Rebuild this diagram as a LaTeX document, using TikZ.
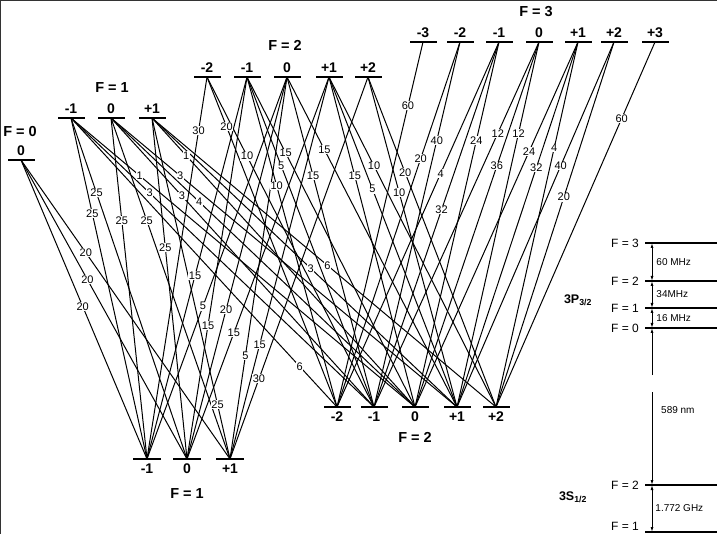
\documentclass[tikz,border=0pt]{standalone}
\usepackage{fontspec}
\setmainfont{Liberation Sans}
\usetikzlibrary{arrows.meta,positioning}

\tikzset{
  sublevel/.style={fill=black, inner sep=0pt, minimum width=27pt, minimum height=2.8pt},
  mlabel/.style={font=\bfseries\fontsize{14}{14}\selectfont, inner sep=1pt},
  flabel/.style={font=\bfseries\fontsize{14.5}{14.5}\selectfont, inner sep=1pt},
  strength/.style={fill=white, inner sep=0.5pt, font=\fontsize{11}{11}\selectfont},
  transition/.style={line width=1pt},
  hfsline/.style={line width=2.8pt},
  hfslabel/.style={font=\fontsize{12}{12}\selectfont, inner sep=1pt},
  splitting/.style={font=\fontsize{10}{10}\selectfont, inner sep=1pt},
  twoway/.style={line width=0.9pt, {Latex[length=5pt,width=3pt]}-{Latex[length=5pt,width=3pt]}},
  oneway/.style={line width=0.9pt, -{Latex[length=5pt,width=3pt]}}
}

\newcommand{\transitions}{%
  e00/g1p/20/0.31, e00/g10/20/0.40, e00/g1m/20/0.49,
  e1m/g1m/25/0.28, e1m/g10/25/0.22, e10/g1m/25/0.30,
  e10/g1p/25/0.30, e1p/g10/25/0.38, e1p/g1p/25/0.84,
  e1m/g2mm/6/0.86, e1m/g2m/3/0.26, e1m/g20/1/0.20,
  e10/g2m/3/0.27, e10/g20/4/0.29, e10/g2p/3/0.20,
  e1p/g20/1/0.13, e1p/g2p/3/0.52, e1p/g2pp/6/0.51,
  e2mm/g1m/30/0.14, e2m/g1m/15/0.52, e2m/g10/15/0.65,
  e20/g1m/5/0.60, e20/g10/20/0.61, e20/g1p/5/0.73,
  e2p/g10/15/0.67, e2p/g1p/15/0.70, e2pp/g1p/30/0.79,
  e2mm/g2mm/20/0.15, e2mm/g2m/10/0.24, e2m/g2mm/10/0.33,
  e2m/g2m/5/0.27, e2m/g20/15/0.23, e20/g2m/15/0.30,
  e20/g2p/15/0.22, e2p/g20/15/0.30, e2p/g2p/5/0.34,
  e2p/g2pp/10/0.27, e2pp/g2p/10/0.35, e2pp/g2pp/20/0.29,
  e3mmm/g2mm/60/0.175, e3mm/g2mm/20/0.32, e3mm/g2m/40/0.27,
  e3m/g2mm/4/0.36, e3m/g2m/32/0.46, e3m/g20/24/0.27,
  e30/g2m/12/0.25, e30/g20/36/0.34, e30/g2p/12/0.25,
  e3p/g20/24/0.30, e3p/g2p/32/0.345, e3p/g2pp/4/0.29,
  e3pp/g2p/40/0.34, e3pp/g2pp/20/0.425, e3ppp/g2pp/60/0.21}

\begin{document}
\begin{tikzpicture}[x=1pt, y=-1pt]
  \useasboundingbox (0,0) rectangle (717,534);
  \draw[gray!40!black, line width=1.5pt] (0.5,534) -- (0.5,0.5) -- (717,0.5);

  % excited state sublevels
  \node[sublevel] (e00) at (21,160) {};
  \node[sublevel] (e1m) at (71,118) {};
  \node[sublevel] (e10) at (111,118) {};
  \node[sublevel] (e1p) at (152,118) {};
  \node[sublevel] (e2mm) at (207,77) {};
  \node[sublevel] (e2m) at (247,77) {};
  \node[sublevel] (e20) at (287,77) {};
  \node[sublevel] (e2p) at (329,77) {};
  \node[sublevel] (e2pp) at (368,77) {};
  \node[sublevel] (e3mmm) at (423,42) {};
  \node[sublevel] (e3mm) at (460,42) {};
  \node[sublevel] (e3m) at (499,42) {};
  \node[sublevel] (e30) at (539,42) {};
  \node[sublevel] (e3p) at (578,42) {};
  \node[sublevel] (e3pp) at (614,42) {};
  \node[sublevel] (e3ppp) at (655,42) {};

  % ground state sublevels
  \node[sublevel, minimum width=28pt] (g1m) at (147,459) {};
  \node[sublevel, minimum width=28pt] (g10) at (187,459) {};
  \node[sublevel, minimum width=28pt] (g1p) at (230,459) {};
  \node[sublevel] (g2mm) at (337,407) {};
  \node[sublevel] (g2m) at (374,407) {};
  \node[sublevel] (g20) at (415,407) {};
  \node[sublevel] (g2p) at (457,407) {};
  \node[sublevel] (g2pp) at (496,407) {};

  % transitions and their strengths
  \foreach \from/\to/\val/\where in \transitions
    \draw[transition] (\from.center) -- (\to.center);
  \foreach \from/\to/\val/\where in \transitions
    \path (\from.center) -- (\to.center) node[strength, pos=\where] {\val};

  % sublevel labels
  \node[mlabel, above=2pt of e00] (e00l) {0};
  \node[mlabel, above=2pt of e1m] (e1ml) {-1};
  \node[mlabel, above=2pt of e10] (e10l) {0};
  \node[mlabel, above=2pt of e1p] (e1pl) {+1};
  \node[mlabel, above=2pt of e2mm] (e2mml) {-2};
  \node[mlabel, above=2pt of e2m] (e2ml) {-1};
  \node[mlabel, above=2pt of e20] (e20l) {0};
  \node[mlabel, above=2pt of e2p] (e2pl) {+1};
  \node[mlabel, above=2pt of e2pp] (e2ppl) {+2};
  \node[mlabel, above=2pt of e3mmm] (e3mmml) {-3};
  \node[mlabel, above=2pt of e3mm] (e3mml) {-2};
  \node[mlabel, above=2pt of e3m] (e3ml) {-1};
  \node[mlabel, above=2pt of e30] (e30l) {0};
  \node[mlabel, above=2pt of e3p] (e3pl) {+1};
  \node[mlabel, above=2pt of e3pp] (e3ppl) {+2};
  \node[mlabel, above=2pt of e3ppp] (e3pppl) {+3};
  \node[mlabel, below=2pt of g1m] (g1ml) {-1};
  \node[mlabel, below=2pt of g10] (g10l) {0};
  \node[mlabel, below=2pt of g1p] (g1pl) {+1};
  \node[mlabel, below=2pt of g2mm] (g2mml) {-2};
  \node[mlabel, below=2pt of g2m] (g2ml) {-1};
  \node[mlabel, below=2pt of g20] (g20l) {0};
  \node[mlabel, below=2pt of g2p] (g2pl) {+1};
  \node[mlabel, below=2pt of g2pp] (g2ppl) {+2};

  % hyperfine level labels
  \node[flabel] (fe0) at (20,132) {F = 0};
  \node[flabel] (fe1) at (112,88) {F = 1};
  \node[flabel] (fe2) at (285,45) {F = 2};
  \node[flabel] (fe3) at (536,12) {F = 3};
  \node[flabel] (fg1) at (187,494) {F = 1};
  \node[flabel] (fg2) at (415,437) {F = 2};

  % level scheme on the right
  \draw[hfsline] (645,243) -- (717,243);
  \draw[hfsline] (645,281) -- (717,281);
  \draw[hfsline] (645,308) -- (717,308);
  \draw[hfsline] (645,328) -- (717,328);
  \draw[hfsline] (645,485) -- (717,485);
  \draw[hfsline] (645,532) -- (717,532);
  \node[hfslabel, anchor=east] (hp3) at (640,243) {F = 3};
  \node[hfslabel, anchor=east] (hp2) at (640,281) {F = 2};
  \node[hfslabel, anchor=east] (hp1) at (640,308) {F = 1};
  \node[hfslabel, anchor=east] (hp0) at (640,328) {F = 0};
  \node[hfslabel, anchor=east] (hs2) at (640,485) {F = 2};
  \node[hfslabel, anchor=east] (hs1) at (640,526) {F = 1};
  \node[hfslabel, font=\bfseries\fontsize{12.5}{12.5}\selectfont] (pterm) at (578,300) {3P\textsubscript{3/2}};
  \node[hfslabel, font=\bfseries\fontsize{12.5}{12.5}\selectfont] (sterm) at (573,497) {3S\textsubscript{1/2}};

  \coordinate (p3) at (652,243);
  \coordinate (p2) at (652,281);
  \coordinate (p1) at (652,308);
  \coordinate (p0) at (652,328);
  \coordinate (s2) at (652,485);
  \coordinate (s1) at (652,532);
  \coordinate (b1) at (652,375);
  \coordinate (b2) at (652,392);
  \draw[twoway] (p3) -- (p2) node[splitting, midway, right=3pt] {60 MHz};
  \draw[twoway] (p2) -- (p1) node[splitting, midway, right=3pt] {34MHz};
  \draw[twoway] (p1) -- (p0) node[splitting, midway, right=3pt] {16 MHz};
  \draw[oneway] (b1) -- (p0);
  \draw[oneway] (b2) -- (s2);
  \node[splitting, anchor=west] (lambda) at (660,410) {589 nm};
  \draw[twoway] (s2) -- (s1) node[splitting, midway, right=2pt] {1.772 GHz};
\end{tikzpicture}
\end{document}
